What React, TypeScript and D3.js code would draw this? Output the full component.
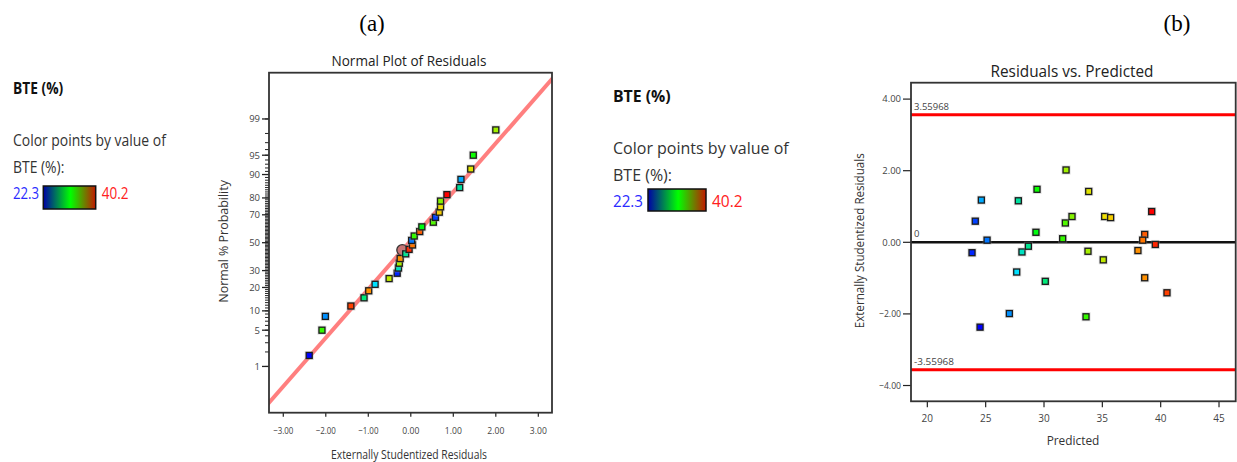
import React from 'react';
import * as d3 from 'd3';

// ---------- data ----------
// (a) normal probability plot: residual, percent, BTE value for the colour
const normResid = [-2.39, -2.09, -2.01, -1.41, -1.1, -0.99, -0.84, -0.51, -0.32, -0.29, -0.27, -0.25, -0.12, -0.04, 0.04, 0.02, 0.08, 0.21, 0.26, 0.53, 0.58, 0.67, 0.7, 0.7, 0.85, 1.15, 1.18, 1.41, 1.47, 2.0];
const normPct = [1.7, 5.0, 8.3, 11.7, 15.0, 18.3, 21.7, 25.0, 28.3, 31.7, 35.0, 38.3, 41.7, 45.0, 48.3, 51.7, 55.0, 58.3, 61.7, 65.0, 68.3, 71.7, 75.0, 78.3, 81.7, 85.0, 88.3, 91.7, 95.0, 98.3];
const normBte = [22.3, 31.0, 25.0, 39.0, 28.5, 37.5, 26.5, 34.0, 23.0, 27.5, 33.2, 37.5, 28.2, 39.5, 38.0, 24.5, 31.0, 38.5, 29.8, 31.5, 23.5, 36.0, 35.5, 32.5, 40.2, 28.0, 25.5, 35.0, 30.2, 33.0];
const normHighlight = { resid: -0.2, pct: 44.5 };
const fitResid = [-3.5, 3.5];
const fitZ = [-3.16, 3.24];

// (b) residuals vs predicted
const predicted = [24.11, 24.63, 25.12, 23.83, 27.8, 29.4, 29.31, 28.11, 28.66, 31.89, 31.6, 31.83, 32.4, 33.83, 33.77, 35.08, 35.2, 35.71, 39.23, 38.63, 38.46, 39.54, 38.05, 27.66, 30.11, 27.03, 24.52, 33.6, 38.63, 40.54];
const residuals = [0.59, 1.18, 0.06, -0.29, 1.16, 1.48, 0.28, -0.27, -0.11, 2.02, 0.1, 0.54, 0.72, 1.42, -0.25, -0.49, 0.72, 0.69, 0.86, 0.22, 0.06, -0.06, -0.23, -0.83, -1.09, -1.99, -2.37, -2.08, -0.99, -1.41];
const predBte = [23.5, 25.5, 24.5, 23.0, 28.0, 30.2, 29.8, 27.5, 28.2, 33.0, 31.0, 31.5, 32.5, 35.0, 33.2, 34.0, 35.5, 36.0, 40.2, 38.5, 38.0, 39.5, 37.5, 26.5, 28.5, 25.0, 22.3, 31.0, 37.5, 39.0];
const limitValue = 3.55968;

// ticks
const probTicks = [1, 5, 10, 20, 30, 50, 70, 80, 90, 95, 99];
const probMinor = d3.range(1, 100);
const residTicks = [-3, -2, -1, 0, 1, 2, 3];
const predXTicks = [20, 25, 30, 35, 40, 45];
const predYTicks = [-4, -2, 0, 2, 4];
const bteRange = [22.3, 40.2];

const FONT = "'Open Sans', 'Noto Sans', sans-serif";

// inverse normal CDF (Acklam)
function probit(p: number): number {
    const a = [-3.969683028665376e1, 2.209460984245205e2, -2.759285104469687e2, 1.38357751867269e2, -3.066479806614716e1, 2.506628277459239];
    const b = [-5.447609879822406e1, 1.615858368580409e2, -1.556989798598866e2, 6.680131188771972e1, -1.328068155288572e1];
    const c = [-7.784894002430293e-3, -3.223964580411365e-1, -2.400758277161838, -2.549732539343734, 4.374664141464968, 2.938163982698783];
    const d = [7.784695709041462e-3, 3.224671290700398e-1, 2.445134137142996, 3.754408661907416];
    const plow = 0.02425;
    if (p < plow) {
        const q = Math.sqrt(-2 * Math.log(p));
        return (((((c[0] * q + c[1]) * q + c[2]) * q + c[3]) * q + c[4]) * q + c[5]) / ((((d[0] * q + d[1]) * q + d[2]) * q + d[3]) * q + 1);
    }
    if (p > 1 - plow) {
        const q = Math.sqrt(-2 * Math.log(1 - p));
        return -(((((c[0] * q + c[1]) * q + c[2]) * q + c[3]) * q + c[4]) * q + c[5]) / ((((d[0] * q + d[1]) * q + d[2]) * q + d[3]) * q + 1);
    }
    const q = p - 0.5;
    const r = q * q;
    return (((((a[0] * r + a[1]) * r + a[2]) * r + a[3]) * r + a[4]) * r + a[5]) * q / (((((b[0] * r + b[1]) * r + b[2]) * r + b[3]) * r + b[4]) * r + 1);
}

// point colours by BTE value
const bteColor = d3.scaleLinear<string>()
    .domain([22.3, 25, 26.5, 28, 30, 33, 35.5, 37.5, 39, 40.2])
    .range(['#0000ff', '#0090ff', '#00e0ff', '#00e0a0', '#00ff00', '#a0f000', '#f0e000', '#ff9000', '#ff4000', '#ff0000'])
    .clamp(true);

const fmt2 = d3.format('.2f');

type TxtProps = {
    x: number; y: number; w?: number; size: number; anchor?: string;
    weight?: string | number; fill?: string; rotate?: boolean; family?: string;
    children: React.ReactNode;
};
const Txt = ({ x, y, w, size, anchor = 'start', weight = 'normal', fill = '#222', rotate, family = FONT, children }: TxtProps) => (
    <text
        x={rotate ? 0 : x}
        y={rotate ? 0 : y}
        transform={rotate ? `translate(${x},${y}) rotate(-90)` : undefined}
        fontFamily={family}
        fontSize={size}
        fontWeight={weight}
        fill={fill}
        textAnchor={anchor}
        textLength={w}
        lengthAdjust={w ? 'spacingAndGlyphs' : undefined}
    >
        {children}
    </text>
);

const Square = ({ x, y, color }: { x: number; y: number; color: string }) => (
    <g>
        <rect x={x - 4.5} y={y - 4.5} width={9} height={9} fill="#9a9a9a" opacity={0.35} />
        <rect x={x - 3} y={y - 3} width={6} height={6} fill={color} stroke="#1c1c1c" strokeWidth={1.3} />
    </g>
);

type LegendProps = { x: number; y0: number; scaleW: number; barX: number; barW: number; barY: number; barH: number; id: string };
const Legend = ({ x, y0, scaleW, barX, barW, barY, barH, id }: LegendProps) => (
    <g>
        <defs>
            <linearGradient id={id} x1="0%" x2="100%" y1="0%" y2="0%">
                <stop offset="0%" stopColor="#0000a8" />
                <stop offset="52%" stopColor="#00ff00" />
                <stop offset="100%" stopColor="#c41800" />
            </linearGradient>
        </defs>
        <Txt x={x} y={y0} w={57.7 * scaleW} size={16} weight="bold" fill="#111">BTE (%)</Txt>
        <Txt x={x} y={y0 + 52} w={175.7 * scaleW} size={16} fill="#333">Color points by value of</Txt>
        <Txt x={x} y={y0 + 79} w={59 * scaleW} size={16} fill="#333">BTE (%):</Txt>
        <Txt x={x} y={y0 + 105} w={30 * scaleW} size={16} fill="#2a2aff">{bteRange[0]}</Txt>
        <rect x={barX} y={barY} width={barW} height={barH} fill={`url(#${id})`} stroke="#111" strokeWidth={1.5} />
        <Txt x={barX + barW + 6} y={y0 + 105} w={30.7 * scaleW} size={16} fill="#ff2020">{bteRange[1]}</Txt>
    </g>
);

const App = () => {
    // ----- panel (a) -----
    const aL = 269, aR = 552, aT = 72.7, aB = 412.7;
    const xA = d3.scaleLinear().domain([-3.336, 3.322]).range([aL, aR]);
    const zA = d3.scaleLinear().domain([-3.196, 3.196]).range([aB, aT]);
    const yP = (pct: number) => zA(probit(pct / 100));
    const fitLine = d3.line<number>()
        .x((_, i) => xA(fitResid[i]))
        .y((_, i) => zA(fitZ[i]));

    // ----- panel (b) -----
    const bL = 911, bR = 1235.7, bT = 82.7, bB = 401.3;
    const xB = d3.scaleLinear().domain([18.6, 46.43]).range([bL, bR]);
    const yB = d3.scaleLinear().domain([-4.441, 4.458]).range([bB, bT]);

    return (
        <svg width={1237} height={462} style={{ position: 'absolute', left: 0, top: 0, background: '#fff' }}>
            <defs>
                <clipPath id="clipA">
                    <rect x={aL} y={aT} width={aR - aL} height={aB - aT} />
                </clipPath>
            </defs>

            {/* panel labels */}
            <Txt x={372} y={31} size={23} anchor="middle" family="'Liberation Serif', 'Times New Roman', serif" fill="#000">(a)</Txt>
            <Txt x={1177} y={31} size={23} anchor="middle" family="'Liberation Serif', 'Times New Roman', serif" fill="#000">(b)</Txt>

            {/* legends */}
            <Legend x={13} y0={94.3} scaleW={0.87} barX={43.3} barW={52.4} barY={186} barH={23} id="gradA" />
            <Legend x={613} y0={102.3} scaleW={1} barX={648} barW={58} barY={189} barH={22} id="gradB" />

            {/* ===== (a) Normal plot ===== */}
            <Txt x={409} y={65.5} w={155} size={15} anchor="middle" fill="#222">Normal Plot of Residuals</Txt>
            <path d={fitLine(fitResid) ?? ''} stroke="#ff7f7f" strokeWidth={4} fill="none" clipPath="url(#clipA)" />
            {probMinor.map(p => (
                <line key={'m' + p} x1={aL - 4} x2={aL} y1={yP(p)} y2={yP(p)} stroke="#222" strokeWidth={1} />
            ))}
            {probTicks.map(p => (
                <g key={'p' + p}>
                    <line x1={aL - 7} x2={aL} y1={yP(p)} y2={yP(p)} stroke="#222" strokeWidth={1.3} />
                    <text x={aL - 9} y={yP(p)} dy="0.35em" textAnchor="end" fontFamily={FONT} fontSize={9.5} fill="#444">{p}</text>
                </g>
            ))}
            {residTicks.map(t => (
                <g key={'r' + t}>
                    <line x1={xA(t)} x2={xA(t)} y1={aB} y2={aB + 4} stroke="#222" strokeWidth={1.2} />
                    <Txt x={xA(t)} y={434} w={t < 0 ? 20.3 : 17} size={9.5} anchor="middle" fill="#444">{fmt2(t)}</Txt>
                </g>
            ))}
            <circle cx={xA(normHighlight.resid)} cy={yP(normHighlight.pct)} r={5.5} fill="#c87474" stroke="#333" strokeWidth={1.3} />
            {normResid.map((r, i) => (
                <Square key={'n' + i} x={xA(r)} y={yP(normPct[i])} color={bteColor(normBte[i])} />
            ))}
            <rect x={aL} y={aT} width={aR - aL} height={aB - aT} fill="none" stroke="#333" strokeWidth={1.8} />
            <Txt x={409} y={459} w={156} size={12} anchor="middle" fill="#333">Externally Studentized Residuals</Txt>
            <Txt x={228} y={241.4} w={122.7} size={12} anchor="middle" rotate fill="#333">Normal % Probability</Txt>

            {/* ===== (b) Residuals vs predicted ===== */}
            <Txt x={1072} y={76.7} w={163} size={15.5} anchor="middle" fill="#222">Residuals vs. Predicted</Txt>
            {predYTicks.map(t => (
                <g key={'yb' + t}>
                    <line x1={bL - 8} x2={bL} y1={yB(t)} y2={yB(t)} stroke="#222" strokeWidth={1.2} />
                    <Txt x={bL - 10} y={yB(t) + 3.4} w={t < 0 ? 22 : 18.7} size={9.5} anchor="end" fill="#444">{fmt2(t)}</Txt>
                </g>
            ))}
            {predXTicks.map(t => (
                <g key={'xb' + t}>
                    <line x1={xB(t)} x2={xB(t)} y1={bB} y2={bB + 6} stroke="#222" strokeWidth={1.2} />
                    <text x={xB(t)} y={421.7} textAnchor="middle" fontFamily={FONT} fontSize={10} fill="#444">{t}</text>
                </g>
            ))}
            <line x1={bL} x2={bR} y1={yB(limitValue)} y2={yB(limitValue)} stroke="#ff0000" strokeWidth={3} />
            <line x1={bL} x2={bR} y1={yB(-limitValue)} y2={yB(-limitValue)} stroke="#ff0000" strokeWidth={3} />
            <line x1={bL} x2={bR} y1={yB(0)} y2={yB(0)} stroke="#111" strokeWidth={2.4} />
            <Txt x={bL + 3} y={yB(limitValue) - 4.5} w={35} size={9.5} fill="#444">{String(limitValue)}</Txt>
            <Txt x={bL + 3} y={yB(-limitValue) - 4.5} w={40} size={9.5} fill="#444">{String(-limitValue)}</Txt>
            <Txt x={bL + 3} y={yB(0) - 5.5} size={9.5} fill="#444">0</Txt>
            {predicted.map((p, i) => (
                <Square key={'b' + i} x={xB(p)} y={yB(residuals[i])} color={bteColor(predBte[i])} />
            ))}
            <rect x={bL} y={bT} width={bR - bL} height={bB - bT} fill="none" stroke="#333" strokeWidth={1.8} />
            <Txt x={1073} y={445} w={52.7} size={12} anchor="middle" fill="#333">Predicted</Txt>
            <Txt x={864} y={240.8} w={175} size={12} anchor="middle" rotate fill="#333">Externally Studentized Residuals</Txt>
        </svg>
    );
};

export default App;
